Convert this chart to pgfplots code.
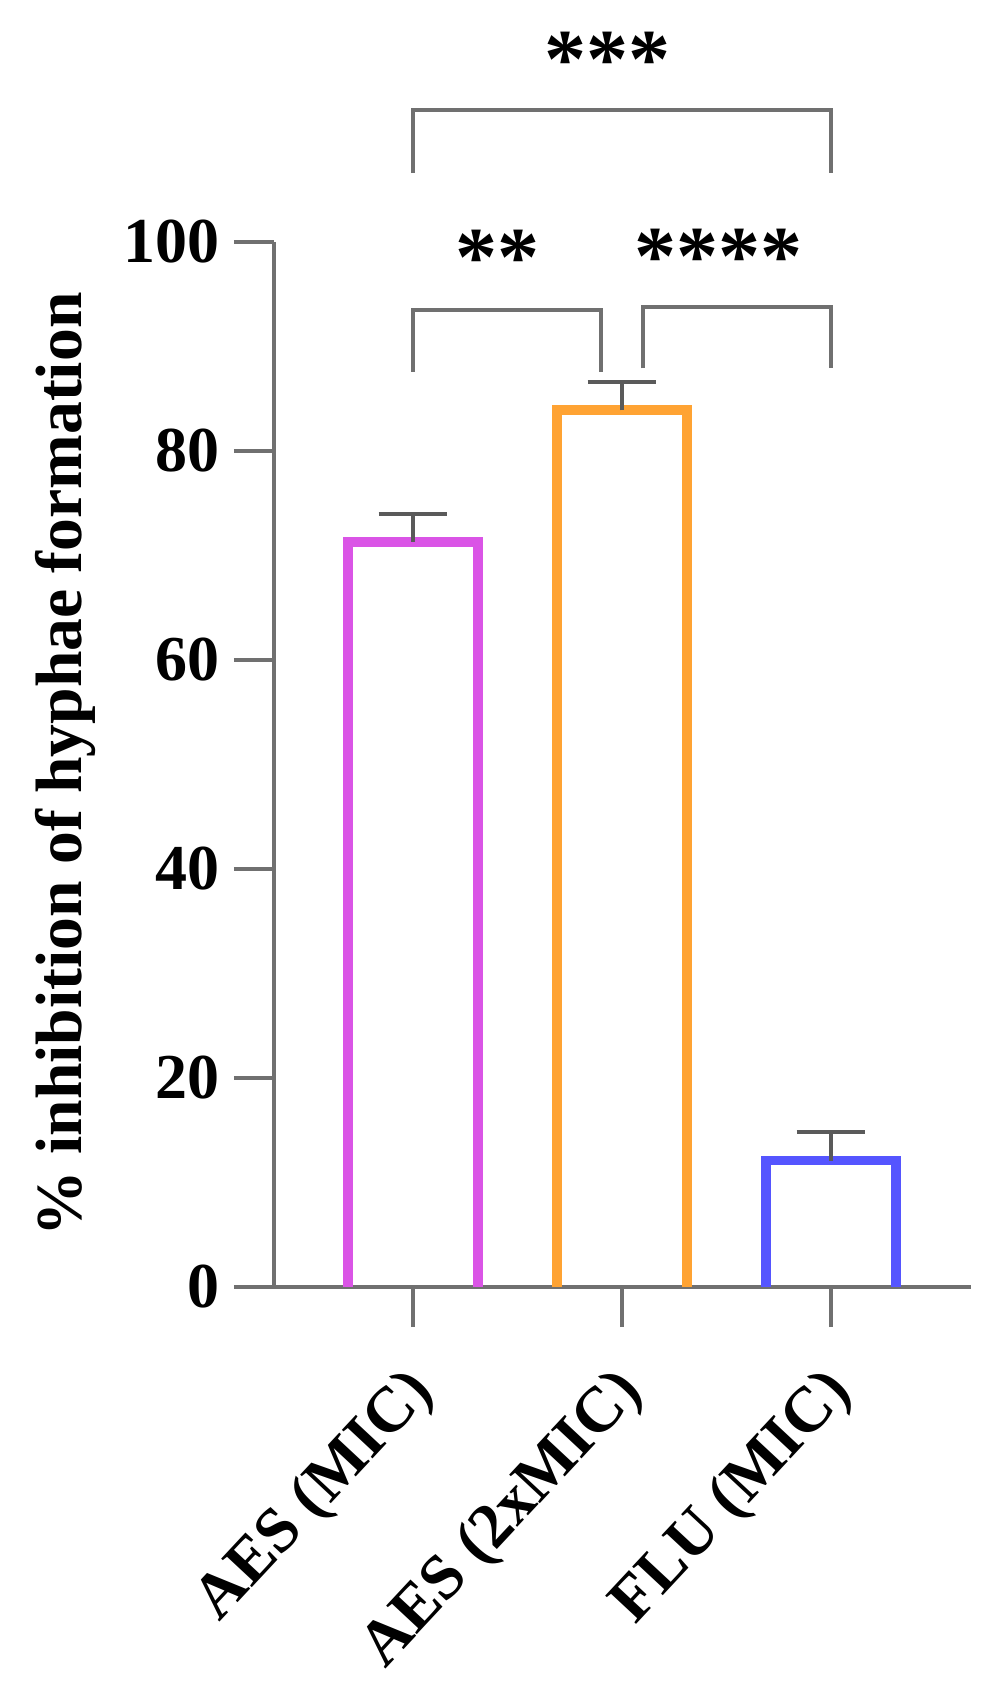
\documentclass[border=0pt]{standalone}
\usepackage{fontspec}
\setmainfont{Liberation Serif}
\usepackage{pgfplots}
\pgfplotsset{compat=1.18}

\definecolor{barmag}{RGB}{218,84,230}
\definecolor{barorange}{RGB}{255,163,51}
\definecolor{barblue}{RGB}{85,85,255}
\definecolor{axgray}{RGB}{112,112,112}
\definecolor{errgray}{RGB}{90,90,90}

\newcommand{\lblfont}{\bfseries\fontsize{16pt}{19pt}\selectfont}
\newcommand{\starfont}{\bfseries\fontsize{21pt}{24pt}\selectfont}

\begin{document}
\begin{tikzpicture}
\useasboundingbox (-68.5pt,-99.25pt) rectangle (181.5pt,321.75pt);
\begin{axis}[
    at={(0,0)}, anchor=south west,
    scale only axis,
    width=174.25pt, height=261.25pt,
    xmin=0.335, xmax=3.67,
    ymin=0, ymax=100,
    clip=false,
    axis lines=left,
    axis line style={-, line width=1pt, color=axgray},
    xtick={1,2,3},
    xticklabels={AES (MIC), AES (2xMIC), FLU (MIC)},
    ytick={0,20,40,60,80,100},
    tick align=outside,
    major tick length=10pt,
    tick style={line width=1pt, color=axgray},
    x tick label style={xshift=5pt, yshift=-11.2pt, rotate=47, anchor=east, font=\lblfont},
    y tick label style={font=\lblfont},
    /pgf/number format/assume math mode=true,
    ylabel={\% inhibition of hyphae formation},
    every axis y label/.style={at={(axis description cs:-0.2755,0.5)}, rotate=90, anchor=base,
        font=\bfseries\fontsize{16.4pt}{19pt}\selectfont},
]

% bars, three sides each (no bottom edge)
\addplot[barmag, line width=2.4pt] coordinates {(0.689,0) (0.689,71.3) (1.311,71.3) (1.311,0)};
\addplot[barorange, line width=2.4pt] coordinates {(1.689,0) (1.689,83.9) (2.311,83.9) (2.311,0)};
\addplot[barblue, line width=2.4pt] coordinates {(2.689,0) (2.689,12.1) (3.311,12.1) (3.311,0)};

% SD, upper only
\addplot[draw=none, mark=none,
    error bars/.cd, y dir=plus, y explicit,
    error mark=|,
    error bar style={draw=errgray, line width=1pt},
    error mark options={draw=errgray, line width=1pt, mark size=8.6pt}]
    coordinates {(1,71.3) +- (0,2.7) (2,83.9) +- (0,2.7) (3,12.1) +- (0,2.7)};

% significance brackets
\addplot[axgray, line width=1pt] coordinates {(1,106.6) (1,112.6) (3,112.6) (3,106.6)};
\addplot[axgray, line width=1pt] coordinates {(1,87.6) (1,93.5) (1.90,93.5) (1.90,87.6)};
\addplot[axgray, line width=1pt] coordinates {(2.10,87.9) (2.10,93.8) (3,93.8) (3,87.9)};

\node[font=\starfont] at (axis cs:1.93,117.4) {***};
\node[font=\starfont] at (axis cs:1.405,98.5) {**};
\node[font=\starfont] at (axis cs:2.46,98.6) {****};
\end{axis}
\end{tikzpicture}
\end{document}
